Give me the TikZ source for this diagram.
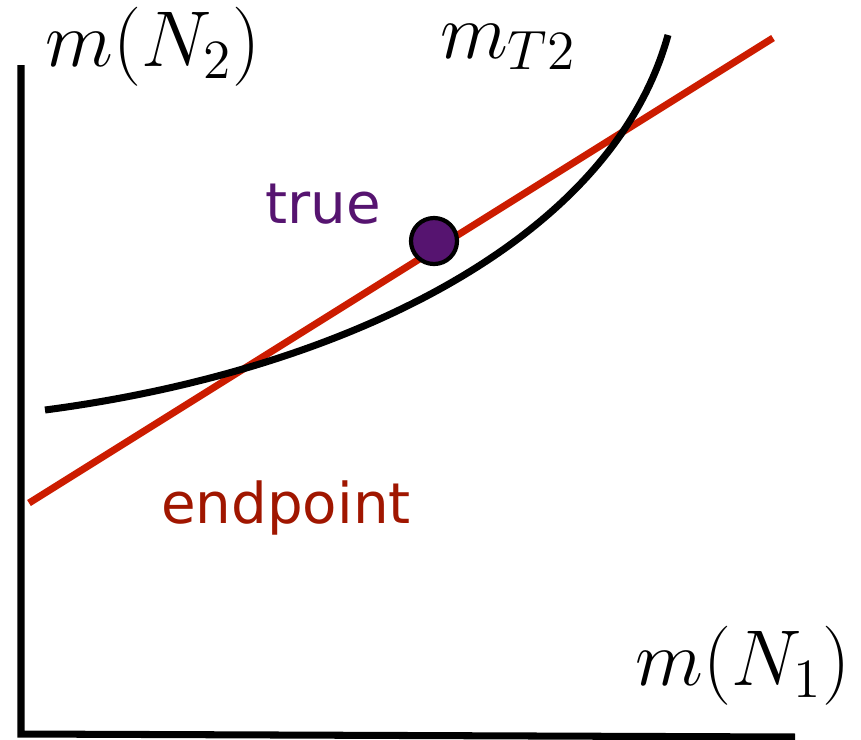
\RequirePackage{fix-cm}
\documentclass[tikz,border=0pt]{standalone}
\usepackage{amsmath}
\usepackage{fontspec}
\newfontfamily\labelfont{DejaVu Sans}
\usetikzlibrary{arrows}
\definecolor{endred}{RGB}{204,28,0}
\definecolor{endtext}{RGB}{160,22,0}
\definecolor{truepurple}{RGB}{86,20,112}
\tikzset{axis/.style = {line width = 2pt, line join = miter}}
\tikzset{curve/.style = {line width = 2pt}}
\tikzset{endline/.style = {line width = 2pt, draw = endred}}
\tikzset{dot/.style = {shape = circle, draw, fill = truepurple, line width = 1.2pt, minimum size = 0.46cm, inner sep = 0pt}}
\tikzset{mathlabel/.style = {font = \fontsize{22.5}{27}\selectfont, inner sep = 0pt}}
\tikzset{textlabel/.style = {font = \fontsize{16}{19}\selectfont\labelfont, inner sep = 0pt, anchor = base}}

\begin{document}
\begin{tikzpicture}[x = 0.01cm, y = -0.01cm]
			\useasboundingbox (0, 0) rectangle (861, 739);

			% axes
			\coordinate (top) at (21, 65);
			\coordinate (origin) at (21, 734);
			\coordinate (right) at (795, 737);
			\draw[axis] (top) -- (origin) -- (right);

			% endpoint line
			\coordinate (e0) at (29, 503);
			\coordinate (e1) at (773, 38);
			\draw[endline] (e0) -- (e1);

			% mT2 curve
			\coordinate (c0) at (45, 410);
			\coordinate (c1) at (668, 35);
			\draw[curve] (c0) .. controls (335, 372) and (610, 245) .. (c1);

			\node[dot] (true) at (434, 241) {};

			\node[mathlabel] (n2) at (153, 47) {$m(N_2)$};
			\node[mathlabel, anchor = base] (mt2) at (508, 58) {$m_{T2}$};
			\node[mathlabel] (n1) at (743, 666) {$m(N_1)$};
			\node[textlabel, text = truepurple] (truelabel) at (323, 223) {true};
			\node[textlabel, text = endtext] (endlabel) at (286, 523) {endpoint};
		\end{tikzpicture}
\end{document}
